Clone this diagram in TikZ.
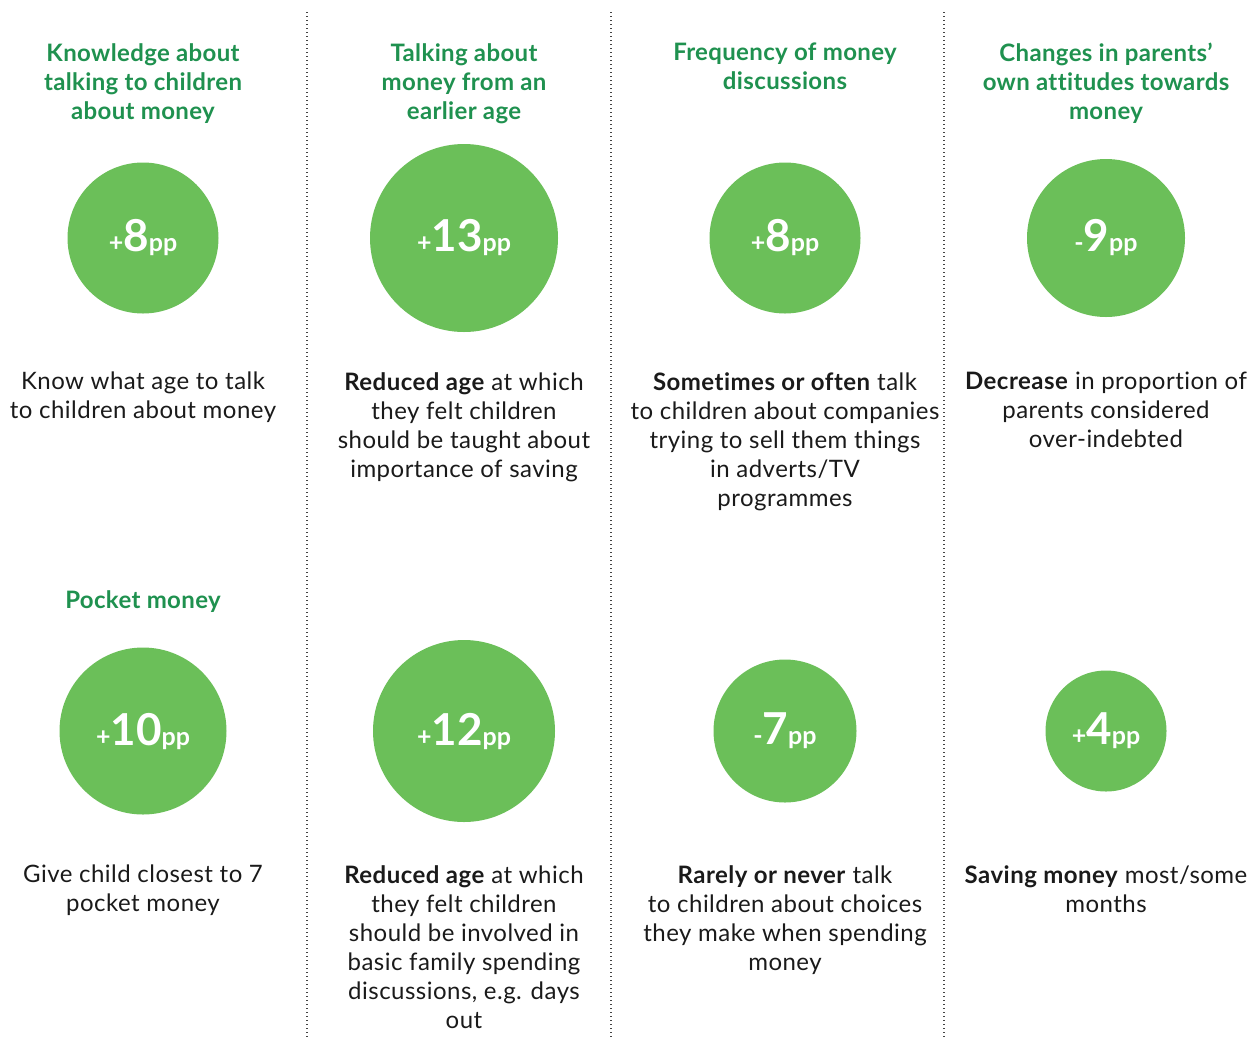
\documentclass[tikz,border=0pt]{standalone}
\usepackage{fontspec}
\setmainfont{Lato}[Ligatures=CommonOff]
\usetikzlibrary{positioning}

\definecolor{bubblegreen}{HTML}{6BBF59}
\definecolor{headgreen}{HTML}{1F914F}
\definecolor{bodyink}{HTML}{1A1A1A}
\definecolor{sepgray}{HTML}{444444}

\newcommand\ppval[2]{{\fontsize{25}{25}\selectfont #1}{\fontsize{44}{44}\selectfont #2}{\fontsize{25}{25}\selectfont pp}}

\tikzset{
	bubble/.style={circle, fill=bubblegreen, inner sep=0pt, text=white, font=\bfseries},
	heading/.style={anchor=north, align=center, inner sep=0pt, text=headgreen,
		font=\fontsize{24}{29}\selectfont\bfseries\addfontfeatures{LetterSpace=1.5}},
	bodytext/.style={anchor=north, align=center, inner sep=0pt, text=bodyink,
		font=\fontsize{24}{29}\selectfont\addfontfeatures{LetterSpace=2}},
	separator/.style={sepgray, line width=1.3pt, dash pattern=on 1.3pt off 2.7pt}
}

\begin{document}
\begin{tikzpicture}[x=1pt, y=-1pt]
\useasboundingbox (0,0) rectangle (1258,1037);

	% column separators
\path
	(307,12) coordinate (s1top) (307,1037) coordinate (s1bot)
	(611,12) coordinate (s2top) (611,1037) coordinate (s2bot)
	(944,12) coordinate (s3top) (944,1037) coordinate (s3bot)
	;
\foreach \s in {s1,s2,s3}
	\draw [separator] (\s top) -- (\s bot);

	% headings
\path
	(143,43) node [heading] (h1) {Knowledge about\\talking to children\\about money}
	(464,43) node [heading] (h2) {Talking about\\money from an\\earlier age}
	(785,43) node [heading] (h3) {Frequency of money\\discussions}
	(1106,43) node [heading] (h4) {Changes in parents’\\own attitudes towards\\money}
	(143,590) node [heading] (h5) {Pocket money}
	;

	% top row of bubbles
\path
	(143,238) node [bubble, minimum size=151] (b1) {\ppval{+}{8}}
	(464,238) node [bubble, minimum size=188] (b2) {\ppval{+}{13}}
	(785,238) node [bubble, minimum size=151] (b3) {\ppval{+}{8}}
	(1106,238) node [bubble, minimum size=158] (b4) {\ppval{-}{9}}
	;

	% bottom row of bubbles
\path
	(143,731) node [bubble, minimum size=167] (b5) {\ppval{+}{10}}
	(464,731) node [bubble, minimum size=182] (b6) {\ppval{+}{12}}
	(785,731) node [bubble, minimum size=143] (b7) {\ppval{-}{7}}
	(1106,731) node [bubble, minimum size=121] (b8) {\ppval{+}{4}}
	;

	% descriptions
\path
	(143,372) node [bodytext] (t1) {Know what age to talk\\to children about money}
	(464,372) node [bodytext] (t2) {\textbf{Reduced age} at which\\they felt children\\should be taught about\\importance of saving}
	(785,372) node [bodytext] (t3) {\textbf{Sometimes or often} talk\\to children about companies\\trying to sell them things\\in adverts/TV\\programmes}
	(1106,372) node [bodytext] (t4) {\textbf{Decrease} in proportion of\\parents considered\\over-indebted}
	(143,865) node [bodytext] (t5) {Give child closest to 7\\pocket money}
	(464,865) node [bodytext] (t6) {\textbf{Reduced age} at which\\they felt children\\should be involved in\\basic family spending\\discussions, e.g. days\\out}
	(785,865) node [bodytext] (t7) {\textbf{Rarely or never} talk\\to children about choices\\they make when spending\\money}
	(1106,865) node [bodytext] (t8) {\textbf{Saving money} most/some\\months}
	;
\end{tikzpicture}
\end{document}
